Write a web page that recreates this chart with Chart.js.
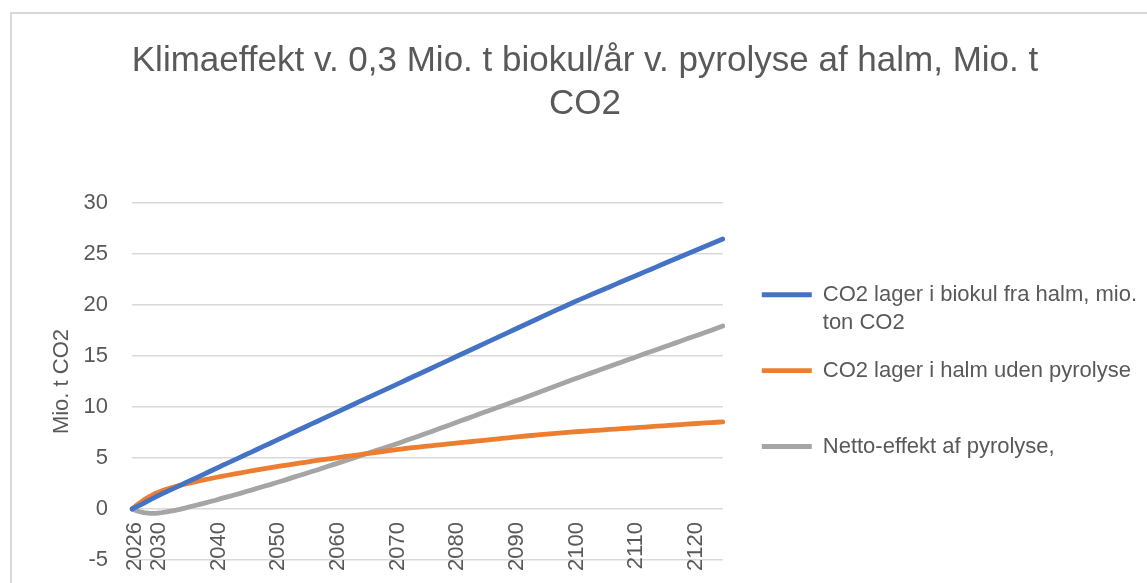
<!DOCTYPE html>
<html>
<head>
<meta charset="utf-8">
<script src="https://cdn.jsdelivr.net/npm/chart.js@4.4.1/dist/chart.umd.min.js"></script>
<style>
  html, body { margin: 0; padding: 0; background: #fff; overflow: hidden; }
  #frame { position: absolute; left: 10px; top: 12px; border-left: 2px solid #d9d9d9; border-top: 2px solid #d9d9d9; }
  #box { position: relative; width: 1135px; height: 600px; }
</style>
</head>
<body>
<div id="frame"><div id="box"><canvas id="chart"></canvas></div></div>
<script>
// Categories: one per year, 2026-2125
const years = Array.from({ length: 100 }, (_, i) => String(2026 + i));
const tickYears = ["2026", "2030", "2040", "2050", "2060", "2070", "2080", "2090", "2100", "2110", "2120"];

// Mio. t CO2
const lagerBiokul = [
  0.00, 0.28, 0.58, 0.90, 1.20, 1.48, 1.76, 2.03, 2.30, 2.58,
  2.86, 3.12, 3.40, 3.68, 3.95, 4.24, 4.50, 4.77, 5.04, 5.32,
  5.58, 5.86, 6.14, 6.40, 6.68, 6.95, 7.22, 7.50, 7.77, 8.04,
  8.32, 8.58, 8.86, 9.13, 9.40, 9.68, 9.95, 10.22, 10.50, 10.77,
  11.04, 11.31, 11.58, 11.86, 12.13, 12.40, 12.68, 12.95, 13.22, 13.49,
  13.76, 14.04, 14.31, 14.58, 14.86, 15.13, 15.40, 15.67, 15.94, 16.22,
  16.49, 16.76, 17.03, 17.30, 17.58, 17.85, 18.12, 18.39, 18.66, 18.94,
  19.21, 19.48, 19.74, 20.01, 20.28, 20.53, 20.78, 21.03, 21.28, 21.53,
  21.78, 22.03, 22.28, 22.53, 22.78, 23.03, 23.28, 23.52, 23.77, 24.02,
  24.27, 24.51, 24.76, 25.01, 25.25, 25.50, 25.74, 25.99, 26.23, 26.48
];
const lagerHalm = [
  0.00, 0.48, 0.90, 1.25, 1.55, 1.78, 1.98, 2.16, 2.32, 2.46,
  2.59, 2.72, 2.85, 2.97, 3.09, 3.20, 3.31, 3.42, 3.53, 3.63,
  3.73, 3.83, 3.93, 4.03, 4.13, 4.22, 4.31, 4.40, 4.49, 4.58,
  4.67, 4.76, 4.84, 4.92, 5.00, 5.08, 5.16, 5.24, 5.32, 5.40,
  5.48, 5.56, 5.64, 5.72, 5.80, 5.87, 5.94, 6.01, 6.08, 6.14,
  6.20, 6.26, 6.32, 6.38, 6.44, 6.50, 6.56, 6.62, 6.68, 6.74,
  6.80, 6.86, 6.92, 6.98, 7.04, 7.10, 7.16, 7.21, 7.26, 7.31,
  7.36, 7.41, 7.46, 7.51, 7.56, 7.60, 7.64, 7.68, 7.72, 7.76,
  7.80, 7.84, 7.88, 7.92, 7.96, 8.00, 8.04, 8.08, 8.12, 8.16,
  8.20, 8.24, 8.28, 8.32, 8.36, 8.40, 8.44, 8.48, 8.51, 8.54
];
const nettoEffekt = [
  0.00, -0.22, -0.36, -0.42, -0.42, -0.36, -0.26, -0.15, -0.03, 0.11,
  0.27, 0.40, 0.55, 0.71, 0.86, 1.04, 1.19, 1.35, 1.51, 1.69,
  1.85, 2.03, 2.21, 2.37, 2.55, 2.73, 2.91, 3.10, 3.28, 3.46,
  3.65, 3.82, 4.02, 4.21, 4.40, 4.60, 4.79, 4.98, 5.18, 5.37,
  5.56, 5.75, 5.94, 6.14, 6.33, 6.53, 6.74, 6.94, 7.14, 7.35,
  7.56, 7.78, 7.99, 8.20, 8.42, 8.63, 8.84, 9.05, 9.26, 9.48,
  9.69, 9.90, 10.11, 10.32, 10.54, 10.75, 10.96, 11.18, 11.40, 11.63,
  11.85, 12.07, 12.28, 12.50, 12.72, 12.93, 13.14, 13.35, 13.56, 13.77,
  13.98, 14.19, 14.40, 14.61, 14.82, 15.03, 15.24, 15.44, 15.65, 15.86,
  16.07, 16.27, 16.48, 16.69, 16.89, 17.10, 17.30, 17.51, 17.72, 17.94
];

const seriesNames = ["CO2 lager i biokul fra halm, mio. ton CO2", "CO2 lager i halm uden pyrolyse", "Netto-effekt af pyrolyse,"];
// legend wraps like the original (blank second line keeps the spacing)
const legendLines = [["CO2 lager i biokul fra halm, mio.", "ton CO2"], ["CO2 lager i halm uden pyrolyse", ""], ["Netto-effekt af pyrolyse,", ""]];
const colors = ["#4472C4", "#ED7D31", "#A5A5A5"];

Chart.defaults.font.family = "'Liberation Sans', Arial, sans-serif";
Chart.defaults.color = "#595959";

const lineSet = (label, data, color) => ({
  label, data,
  borderColor: color, backgroundColor: color,
  borderWidth: 4.8, borderCapStyle: "round", borderJoinStyle: "round",
  pointRadius: 0, tension: 0
});

new Chart(document.getElementById("chart"), {
  type: "line",
  data: {
    labels: years,
    datasets: [
      lineSet(seriesNames[0], lagerBiokul, colors[0]),
      lineSet(seriesNames[1], lagerHalm, colors[1]),
      lineSet(seriesNames[2], nettoEffekt, colors[2])
    ]
  },
  options: {
    responsive: true,
    maintainAspectRatio: false,
    animation: false,
    layout: { padding: { left: 11, top: 0, right: 0, bottom: 54 } },
    plugins: {
      tooltip: { enabled: false },
      title: {
        display: true,
        text: ["Klimaeffekt v. 0,3 Mio. t biokul/år v. pyrolyse af halm, Mio. t", "CO2"],
        color: "#595959",
        font: { size: 35, weight: "normal", lineHeight: 1.23 },
        padding: { top: 26, bottom: 77 }
      },
      legend: {
        position: "right",
        fullSize: false,
        maxWidth: 430,
        // empty title only nudges the entries down a little
        title: { display: true, text: "", font: { size: 10, lineHeight: 1.2 }, padding: { top: 0, bottom: 0 } },
        labels: {
          usePointStyle: true,
          pointStyle: "line",
          pointStyleWidth: 50,
          padding: 20,
          color: "#595959",
          font: { size: 22, lineHeight: 1.27 },
          generateLabels: (chart) => Chart.defaults.plugins.legend.labels.generateLabels(chart)
            .map((item, i) => ({ ...item, text: legendLines[i] }))
        }
      }
    },
    scales: {
      x: {
        position: { y: 0 },
        grid: { display: false, drawTicks: false },
        border: { display: false },
        ticks: {
          autoSkip: false,
          minRotation: 90,
          maxRotation: 90,
          padding: 13,
          labelOffset: 3,
          font: { size: 22 },
          callback: (v, i) => tickYears.includes(years[i]) ? years[i] : null
        }
      },
      y: {
        min: -5,
        max: 30,
        grid: { color: "#d9d9d9", lineWidth: 1.5, drawTicks: false },
        border: { display: false },
        ticks: { stepSize: 5, padding: 24, font: { size: 22 } },
        title: {
          display: true,
          text: "Mio. t CO2",
          font: { size: 22 },
          color: "#595959",
          padding: { top: 26, bottom: 8 }
        },
        afterFit: (s) => { s.width = 109; }
      },
      // empty spacer between the plot and the legend
      gap: {
        type: "linear",
        position: "right",
        grid: { display: false },
        border: { display: false },
        ticks: { display: false },
        afterFit: (s) => { s.width = 19; }
      }
    }
  }
});
</script>
</body>
</html>
